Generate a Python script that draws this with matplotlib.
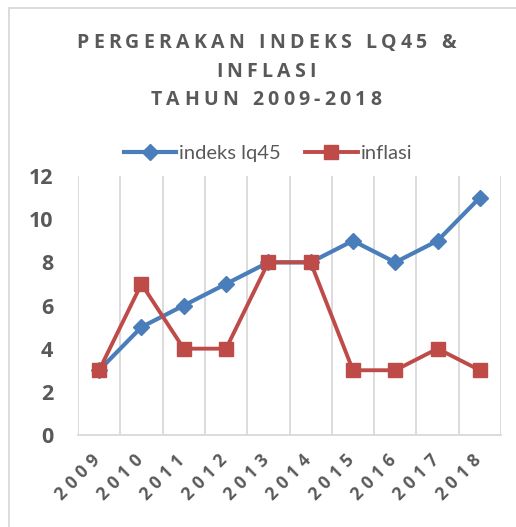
import matplotlib
matplotlib.use("Agg")
import matplotlib.pyplot as plt
from matplotlib.patches import Rectangle

years = ["2009", "2010", "2011", "2012", "2013", "2014", "2015", "2016", "2017", "2018"]
indeks_lq45 = [3, 5, 6, 7, 8, 8, 9, 8, 9, 11]
inflasi = [3, 7, 4, 4, 8, 8, 3, 3, 4, 3]
title_lines = ["PERGERAKAN INDEKS LQ45 &", "INFLASI", "TAHUN 2009-2018"]

BLUE = "#4a7ebb"
RED = "#be4b48"
GRAY = "#595959"
GRID = "#d9d9d9"

W, H = 516, 527
fig = plt.figure(figsize=(W / 100, H / 100), dpi=100)
fig.patch.set_facecolor("white")

# chart border (runs off right and bottom in the original)
fig.patches.append(Rectangle((9 / W, -0.2), 1.2, 1.2 - 8 / H, transform=fig.transFigure,
                             fill=False, edgecolor=GRID, lw=1.3))

ax = fig.add_axes([78 / W, (H - 435) / H, (501 - 78) / W, (435 - 176) / H])
x = list(range(len(years)))
ax.plot(x, indeks_lq45, color=BLUE, lw=3, marker="D", ms=8.5, label="indeks lq45", zorder=3)
ax.plot(x, inflasi, color=RED, lw=2.8, marker="s", ms=10, label="inflasi", zorder=3)

ax.set_xlim(-0.5, len(years) - 0.5)
ax.set_ylim(0, 12)
ax.set_yticks(range(0, 13, 2))
ax.set_xticks([i - 0.5 for i in range(len(years) + 1)], minor=True)
ax.set_xticks(x)
ax.set_xticklabels([])
ax.grid(True, axis="x", which="minor", color=GRID, lw=1.3)
ax.grid(False, axis="x", which="major")
ax.tick_params(axis="both", which="both", length=0)
ax.tick_params(axis="y", pad=18, labelsize=15.5, labelcolor=GRAY)
for lab in ax.get_yticklabels():
    lab.set_fontweight("bold")
    lab.set_family("Open Sans")
for side in ["left", "right", "top"]:
    ax.spines[side].set_visible(False)
ax.spines["bottom"].set_color(GRID)
ax.spines["bottom"].set_linewidth(1.3)

# letter-spaced, rotated year labels
pitch = 15.3 / 1.389
for i, yr in enumerate(years):
    n = len(yr)
    for k, ch in enumerate(yr):
        back = (n - 1 - k) * pitch * 0.7071
        ax.annotate(ch, xy=(i, 0), xycoords=("data", "axes fraction"),
                    xytext=(-4 - back, -19 - back), textcoords="offset points",
                    rotation=45, ha="center", va="center", fontsize=12.5,
                    fontweight="bold", color=GRAY, family="Open Sans")

# letter-spaced title
renderer = fig.canvas.get_renderer()
def spaced_text(s, cx, cy, size, track):
    widths = []
    for ch in s:
        if ch == " ":
            widths.append(size * 1.389 * 0.3)
            continue
        t = fig.text(0, 0, ch, fontsize=size, fontweight="bold", family="Open Sans")
        widths.append(t.get_window_extent(renderer).width)
        t.remove()
    total = sum(widths) + track * (len(s) - 1)
    px = cx - total / 2
    for ch, w in zip(s, widths):
        if ch != " ":
            fig.text(px / W, 1 - cy / H, ch, fontsize=size, fontweight="bold",
                     family="Open Sans", color=GRAY, ha="left", va="center")
        px += w + track

for line, cy in zip(title_lines, [43, 72, 100]):
    spaced_text(line, 266, cy, 14, 4.2)

fig.legend(loc="center", bbox_to_anchor=(268 / W, 1 - 153 / H), ncol=2, frameon=False,
           handlelength=2.6, handletextpad=0.15, columnspacing=1.2,
           labelcolor=GRAY, prop={"family": "Lato", "size": 14.5})

fig.savefig("out.png", dpi=100, facecolor="white")
